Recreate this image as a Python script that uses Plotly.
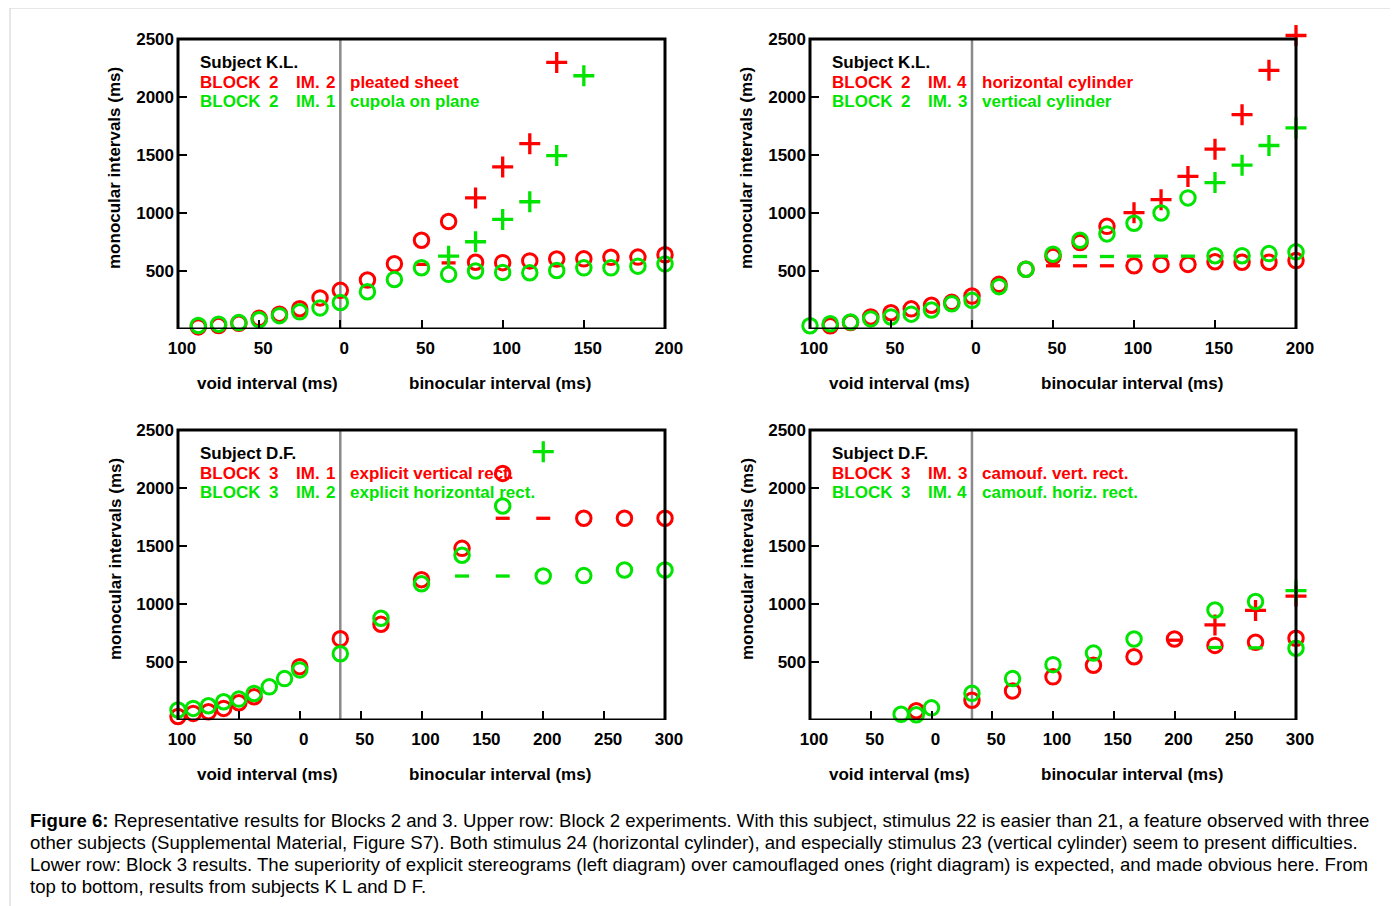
import plotly.graph_objects as go

# window is 1398x906; the page body adds an 8 px margin, so the figure is 8 px smaller and
# every pixel position below is given in window coordinates and shifted by OFFSET.
WIN_W, WIN_H = 1398, 906
OFFSET = 8
W, H = WIN_W - OFFSET, WIN_H - OFFSET
RED = "#ff0000"
GREEN = "#00e400"
FONT = "Liberation Sans, Arial, Helvetica, sans-serif"

# ---------------- data (x: negative = void interval, positive = binocular interval) -------------
# Panel 1: Subject K.L., Block 2
p1_red_circle_x = [-87.5, -75, -62.5, -50, -37.5, -25, -12.5, 0, 16.7, 33.3, 50, 66.7, 83.3, 100, 116.7, 133.3, 150, 166.7, 183.3, 200]
p1_red_circle_y = [18, 30, 50, 92, 128, 175, 268, 333, 422, 562, 765, 927, 575, 572, 587, 603, 605, 618, 620, 640]
p1_green_circle_x = [-87.5, -75, -62.5, -50, -37.5, -25, -12.5, 0, 16.7, 33.3, 50, 66.7, 83.3, 100, 116.7, 133.3, 150, 166.7, 183.3, 200]
p1_green_circle_y = [30, 42, 55, 80, 115, 148, 182, 228, 321, 427, 528, 471, 500, 488, 485, 504, 527, 527, 542, 561]
p1_red_plus_x = [83.3, 100, 116.7, 133.3]
p1_red_plus_y = [1130, 1397, 1598, 2298]
p1_green_plus_x = [66.7, 83.3, 100, 116.7, 133.3, 150]
p1_green_plus_y = [628, 752, 945, 1097, 1495, 2183]
p1_red_minus_x = [50, 66.7]
p1_red_minus_y = [557, 570]
p1_green_minus_x = []
p1_green_minus_y = []

# Panel 2: Subject K.L., Block 2
p2_red_circle_x = [-87.5, -75, -62.5, -50, -37.5, -25, -12.5, 0, 16.7, 33.3, 50, 66.7, 83.3, 100, 116.7, 133.3, 150, 166.7, 183.3, 200]
p2_red_circle_y = [27, 55, 103, 140, 174, 205, 230, 284, 385, 515, 625, 745, 885, 545, 557, 557, 580, 575, 575, 590]
p2_green_circle_x = [-100, -87.5, -75, -62.5, -50, -37.5, -25, -12.5, 0, 16.7, 33.3, 50, 66.7, 83.3, 100, 116.7, 133.3, 150, 166.7, 183.3, 200]
p2_green_circle_y = [28, 45, 60, 87, 104, 128, 164, 218, 247, 365, 515, 645, 765, 820, 912, 1000, 1130, 632, 632, 650, 665]
p2_red_plus_x = [100, 116.7, 133.3, 150, 166.7, 183.3, 200]
p2_red_plus_y = [1003, 1115, 1315, 1550, 1848, 2230, 2530]
p2_green_plus_x = [150, 166.7, 183.3, 200]
p2_green_plus_y = [1262, 1412, 1582, 1733]
p2_red_minus_x = [50, 66.7, 83.3]
p2_red_minus_y = [545, 545, 545]
p2_green_minus_x = [66.7, 83.3, 100, 116.7, 133.3]
p2_green_minus_y = [625, 625, 628, 628, 628]

# Panel 3: Subject D.F., Block 3 (explicit)
p3_red_circle_x = [-100, -87.5, -75, -62.5, -50, -37.5, 0, 33.3, 66.7, 100, 133.3, 166.7, 233.3, 266.7, 300]
p3_red_circle_y = [30, 57, 71, 100, 149, 200, 460, 700, 825, 1210, 1480, 2126, 1739, 1739, 1739]
p3_green_circle_x = [-100, -87.5, -75, -62.5, -50, -37.5, -25, -12.5, 0, 33.3, 66.7, 100, 133.3, 166.7, 200, 233.3, 266.7, 300]
p3_green_circle_y = [86, 100, 123, 157, 180, 229, 286, 357, 432, 571, 877, 1175, 1420, 1845, 1241, 1245, 1293, 1293]
p3_red_plus_x = []
p3_red_plus_y = []
p3_green_plus_x = [200]
p3_green_plus_y = [2313]
p3_red_minus_x = [166.7, 200]
p3_red_minus_y = [1739, 1739]
p3_green_minus_x = [133.3, 166.7]
p3_green_minus_y = [1241, 1241]

# Panel 4: Subject D.F., Block 3 (camouflaged)
p4_red_circle_x = [-12.5, 33.3, 66.7, 100, 133.3, 166.7, 200, 233.3, 266.7, 300]
p4_red_circle_y = [80, 170, 250, 372, 472, 545, 698, 643, 670, 705]
p4_green_circle_x = [-25, -12.5, 0, 33.3, 66.7, 100, 133.3, 166.7, 233.3, 266.7, 300]
p4_green_circle_y = [50, 45, 105, 230, 357, 477, 577, 698, 948, 1022, 619]
p4_red_plus_x = [233.3, 266.7, 300]
p4_red_plus_y = [820, 945, 1068]
p4_green_plus_x = [300]
p4_green_plus_y = [1115]
p4_red_minus_x = [200]
p4_red_minus_y = [688]
p4_green_minus_x = [233.3, 266.7]
p4_green_minus_y = [625, 622]

top_xticks = [-100, -50, 0, 50, 100, 150, 200]
bottom_xticks = [-100, -50, 0, 50, 100, 150, 200, 250, 300]
yticks = [500, 1000, 1500, 2000, 2500]
YMAX = 2500

panel_text = [
    ("Subject K.L.", ("BLOCK", "2", "IM.", "2", "pleated sheet"), ("BLOCK", "2", "IM.", "1", "cupola on plane")),
    ("Subject K.L.", ("BLOCK", "2", "IM.", "4", "horizontal cylinder"), ("BLOCK", "2", "IM.", "3", "vertical cylinder")),
    ("Subject D.F.", ("BLOCK", "3", "IM.", "1", "explicit vertical rect."), ("BLOCK", "3", "IM.", "2", "explicit horizontal rect.")),
    ("Subject D.F.", ("BLOCK", "3", "IM.", "3", "camouf. vert. rect."), ("BLOCK", "3", "IM.", "4", "camouf. horiz. rect.")),
]
divider_x = [0, 0, 33.3, 33.3]

caption_lines = [
    "<b>Figure 6:</b> Representative results for Blocks 2 and 3. Upper row: Block 2 experiments. With this subject, stimulus 22 is easier than 21, a feature observed with three",
    "other subjects (Supplemental Material, Figure S7). Both stimulus 24 (horizontal cylinder), and especially stimulus 23 (vertical cylinder) seem to present difficulties.",
    "Lower row: Block 3 results. The superiority of explicit stereograms (left diagram) over camouflaged ones (right diagram) is expected, and made obvious here. From",
    "top to bottom, results from subjects K L and D F.",
]

# ---------------- layout geometry (window pixels) ----------------
panels_px = [  # left, right, top (y=2500), bottom (y=0)
    (178, 665, 39, 329),
    (810, 1296, 39, 329),
    (178, 665, 430, 720),
    (810, 1296, 430, 720),
]
xranges = [[-100, 200], [-100, 200], [-100, 300], [-100, 300]]
xtickvals = [top_xticks, top_xticks, bottom_xticks, bottom_xticks]
Y_RANGE_TOP = 2600  # a little head-room above the frame so the highest '+' is not hidden


def px(x):
    return (x - OFFSET) / W


def py(y):
    return 1 - (y - OFFSET) / H


def xname(i):
    return "x" if i == 1 else f"x{i}"


def yname(i):
    return "y" if i == 1 else f"y{i}"


fig = go.Figure()

series = [
    (p1_red_circle_x, p1_red_circle_y, p1_green_circle_x, p1_green_circle_y, p1_red_plus_x, p1_red_plus_y,
     p1_green_plus_x, p1_green_plus_y, p1_red_minus_x, p1_red_minus_y, p1_green_minus_x, p1_green_minus_y),
    (p2_red_circle_x, p2_red_circle_y, p2_green_circle_x, p2_green_circle_y, p2_red_plus_x, p2_red_plus_y,
     p2_green_plus_x, p2_green_plus_y, p2_red_minus_x, p2_red_minus_y, p2_green_minus_x, p2_green_minus_y),
    (p3_red_circle_x, p3_red_circle_y, p3_green_circle_x, p3_green_circle_y, p3_red_plus_x, p3_red_plus_y,
     p3_green_plus_x, p3_green_plus_y, p3_red_minus_x, p3_red_minus_y, p3_green_minus_x, p3_green_minus_y),
    (p4_red_circle_x, p4_red_circle_y, p4_green_circle_x, p4_green_circle_y, p4_red_plus_x, p4_red_plus_y,
     p4_green_plus_x, p4_green_plus_y, p4_red_minus_x, p4_red_minus_y, p4_green_minus_x, p4_green_minus_y),
]


def add(xs, ys, sym, color, size, lw, i):
    if not xs:
        return
    fig.add_trace(go.Scatter(
        x=xs, y=ys, mode="markers", xaxis=xname(i), yaxis=yname(i), cliponaxis=False,
        marker=dict(symbol=sym, size=size, color=color, line=dict(color=color, width=lw)),
        showlegend=False, hoverinfo="x+y"))


for k, s in enumerate(series):
    i = k + 1
    (rcx, rcy, gcx, gcy, rpx, rpy, gpx, gpy, rmx, rmy, gmx, gmy) = s
    add(rcx, rcy, "circle-open", RED, 14.5, 3, i)
    add(rpx, rpy, "cross-thin-open", RED, 15, 3.3, i)
    add(rmx, rmy, "line-ew-open", RED, 10, 3.3, i)
    add(gcx, gcy, "circle-open", GREEN, 14.5, 3, i)
    add(gpx, gpy, "cross-thin-open", GREEN, 15, 3.3, i)
    add(gmx, gmy, "line-ew-open", GREEN, 10, 3.3, i)

layout = dict(
    width=W, height=H, margin=dict(l=0, r=0, t=0, b=0, pad=0, autoexpand=False),
    paper_bgcolor="white", plot_bgcolor="white", showlegend=False,
    font=dict(family=FONT, size=17, color="black"),
)
annotations = []
shapes = []

for k, (l, r, t, b) in enumerate(panels_px):
    i = k + 1
    top_dom = b - (b - t) * Y_RANGE_TOP / YMAX
    xa = dict(
        domain=[px(l), px(r)], range=xranges[k], anchor=yname(i), automargin=False,
        tickmode="array", tickvals=xtickvals[k], ticktext=[str(abs(v)) for v in xtickvals[k]],
        ticks="inside", ticklen=9, tickwidth=2, tickcolor="black",
        showline=False, showgrid=False, zeroline=False, ticklabelstandoff=7, ticklabelshift=4,
        tickfont=dict(family=FONT, size=17, color="black", weight="bold"),
    )
    ya = dict(
        domain=[py(b), py(top_dom)], range=[0, Y_RANGE_TOP], anchor=xname(i), automargin=False,
        tickmode="array", tickvals=yticks, ticktext=[str(v) for v in yticks],
        ticks="inside", ticklen=9, tickwidth=2, tickcolor="black",
        showline=False, showgrid=False, zeroline=False, ticklabelstandoff=3,
        tickfont=dict(family=FONT, size=17, color="black", weight="bold"),
    )
    layout["xaxis" if i == 1 else f"xaxis{i}"] = xa
    layout["yaxis" if i == 1 else f"yaxis{i}"] = ya

    # black frame from 0 to 2500
    shapes.append(dict(type="rect", xref=f"{xname(i)} domain", yref=yname(i), x0=0, x1=1, y0=0, y1=YMAX,
                       line=dict(color="black", width=3), layer="above"))
    # gray divider line
    shapes.append(dict(type="line", xref=xname(i), yref=yname(i), x0=divider_x[k], x1=divider_x[k],
                       y0=0, y1=YMAX, line=dict(color="#8a8a8a", width=2.5), layer="below"))

    # axis titles
    annotations.append(dict(text="<b>void interval (ms)</b>", xref="paper", yref="paper",
                            x=px(l + 89), y=py(t + 344), showarrow=False, xanchor="center", yanchor="middle",
                            font=dict(size=17)))
    annotations.append(dict(text="<b>binocular interval (ms)</b>", xref="paper", yref="paper",
                            x=px(l + 322), y=py(t + 344), showarrow=False, xanchor="center", yanchor="middle",
                            font=dict(size=17)))
    annotations.append(dict(text="<b>monocular intervals (ms)</b>", xref="paper", yref="paper",
                            x=px(l - 63), y=py(t + 129), showarrow=False, xanchor="center", yanchor="middle",
                            textangle=-90, font=dict(size=17)))

    # in-panel legend text
    subj, red_row, green_row = panel_text[k]
    annotations.append(dict(text=f"<b>{subj}</b>", xref="paper", yref="paper", x=px(l + 20), y=py(t + 23.5),
                            showarrow=False, xanchor="left", yanchor="middle", font=dict(size=17, color="black")))
    for row, color, dy in ((red_row, RED, 43.5), (green_row, GREEN, 62.5)):
        blk, bn, im, imn, desc = row
        for txt, xo, anc in ((blk, 20, "left"), (bn, 95, "center"), (im, 116, "left"),
                             (imn, 152, "center"), (desc, 170, "left")):
            annotations.append(dict(text=f"<b>{txt}</b>", xref="paper", yref="paper", x=px(l + xo), y=py(t + dy),
                                    showarrow=False, xanchor=anc, yanchor="middle",
                                    font=dict(size=17, color=color)))

# caption
for j, line in enumerate(caption_lines):
    annotations.append(dict(text=line, xref="paper", yref="paper", x=px(28), y=py(820 + 22 * j),
                            showarrow=False, xanchor="left", yanchor="middle",
                            font=dict(size=18.6, color="black", family=FONT)))

# outer light frame of the figure
shapes.append(dict(type="rect", xref="paper", yref="paper", x0=px(10), x1=1.02, y0=-0.02, y1=py(8),
                   line=dict(color="#cfcfcf", width=1), layer="below"))

layout["annotations"] = annotations
layout["shapes"] = shapes
fig.update_layout(**layout)
fig.write_html("out.html")
